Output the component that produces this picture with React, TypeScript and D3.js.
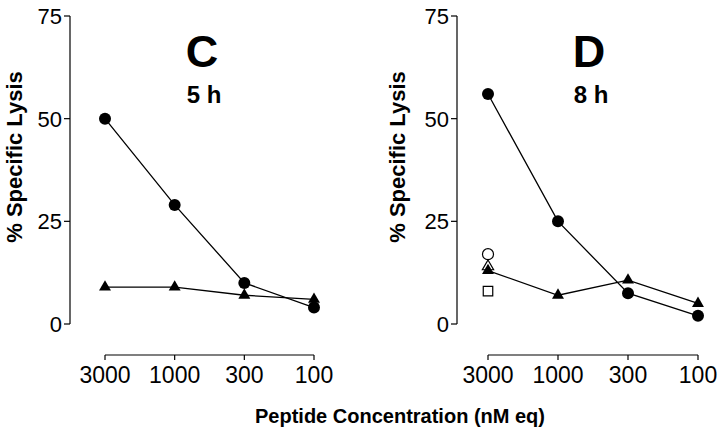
import React from "react";
import * as d3 from "d3";

const concentrations = ["3000", "1000", "300", "100"];
const yTicks = [0, 25, 50, 75];

const panelC = {
  letter: "C",
  time: "5 h",
  circles: [50, 29, 10, 4],
  triangles: [9, 9, 7, 6],
};

const panelD = {
  letter: "D",
  time: "8 h",
  circles: [56, 25, 7.5, 2],
  triangles: [13, 7, 10.7, 5],
};

// open controls in panel D, all at 3000
const openCircle = 17;
const openTriangle = 14;
const openSquare = 8;

const FONT = "'Liberation Sans', Arial, Helvetica, sans-serif";

const y = d3.scaleLinear().domain([0, 75]).range([324, 16]);

type Panel = typeof panelC;

const Chart = ({ p, axisX, x0, x1, labelX, titleX, extra }: { p: Panel; axisX: number; x0: number; x1: number; labelX: number; titleX: number; extra?: boolean }) => {
  const x = d3.scalePoint<string>().domain(concentrations).range([x0, x1]);
  const line = d3
    .line<number>()
    .x((_, i) => x(concentrations[i]) as number)
    .y((d) => y(d));
  const tri = d3.symbol(d3.symbolTriangle, 62)();
  const triOpen = d3.symbol(d3.symbolTriangle, 55)();
  const sq = d3.symbol(d3.symbolSquare, 90)();
  const axisY = 355;

  return (
    <g>
      {/* y axis */}
      <line x1={axisX} x2={axisX} y1={y(75)} y2={y(0)} stroke="#000" strokeWidth={1.2} />
      {yTicks.map((t) => (
        <g key={t}>
          <line x1={axisX - 6} x2={axisX} y1={y(t)} y2={y(t)} stroke="#000" strokeWidth={1.2} />
          <text x={axisX - 8} y={y(t) + 8} textAnchor="end" fontSize={22} fontFamily={FONT}>
            {t}
          </text>
        </g>
      ))}
      <text
        transform={`translate(${labelX},157) rotate(-90)`}
        textAnchor="middle"
        fontSize={22}
        fontWeight="bold"
        fontFamily={FONT}
      >
        % Specific Lysis
      </text>

      {/* x axis */}
      <line x1={x0} x2={x1} y1={axisY} y2={axisY} stroke="#000" strokeWidth={1.2} />
      {concentrations.map((c) => (
        <g key={c}>
          <line x1={x(c)} x2={x(c)} y1={axisY} y2={axisY + 5} stroke="#000" strokeWidth={1.2} />
          <text x={x(c)} y={383} textAnchor="middle" fontSize={23} fontFamily={FONT}>
            {c}
          </text>
        </g>
      ))}

      {/* titles */}
      <text x={titleX} y={67} textAnchor="middle" fontSize={45} fontWeight="bold" fontFamily={FONT}>
        {p.letter}
      </text>
      <text x={titleX + 2} y={103} textAnchor="middle" fontSize={24} fontWeight="bold" fontFamily={FONT}>
        {p.time}
      </text>

      {/* lines */}
      <path d={line(p.circles) as string} fill="none" stroke="#000" strokeWidth={1.3} />
      <path d={line(p.triangles) as string} fill="none" stroke="#000" strokeWidth={1.3} />

      {extra && (
        <g fill="#fff" stroke="#000" strokeWidth={1.2}>
          <circle cx={x("3000")} cy={y(openCircle)} r={5.5} />
          <path d={triOpen as string} transform={`translate(${x("3000")},${y(openTriangle)})`} />
          <path d={sq as string} transform={`translate(${x("3000")},${y(openSquare)})`} />
        </g>
      )}

      {/* markers */}
      {p.triangles.map((v, i) => (
        <path key={"t" + i} d={tri as string} transform={`translate(${x(concentrations[i])},${y(v)})`} fill="#000" />
      ))}
      {p.circles.map((v, i) => (
        <circle key={"c" + i} cx={x(concentrations[i])} cy={y(v)} r={6} fill="#000" />
      ))}
    </g>
  );
};

export default function App() {
  return (
    <svg
      width={720}
      height={437}
      style={{ position: "absolute", left: 0, top: 0, background: "#fff" }}
    >
      <rect width={720} height={437} fill="#fff" />
      <Chart p={panelC} axisX={70} x0={105} x1={314} labelX={22} titleX={202} />
      <Chart p={panelD} axisX={457} x0={488} x1={698} labelX={405} titleX={589} extra />
      <text x={400} y={423} textAnchor="middle" fontSize={20} fontWeight="bold" fontFamily={FONT}>
        Peptide Concentration (nM eq)
      </text>
    </svg>
  );
}
